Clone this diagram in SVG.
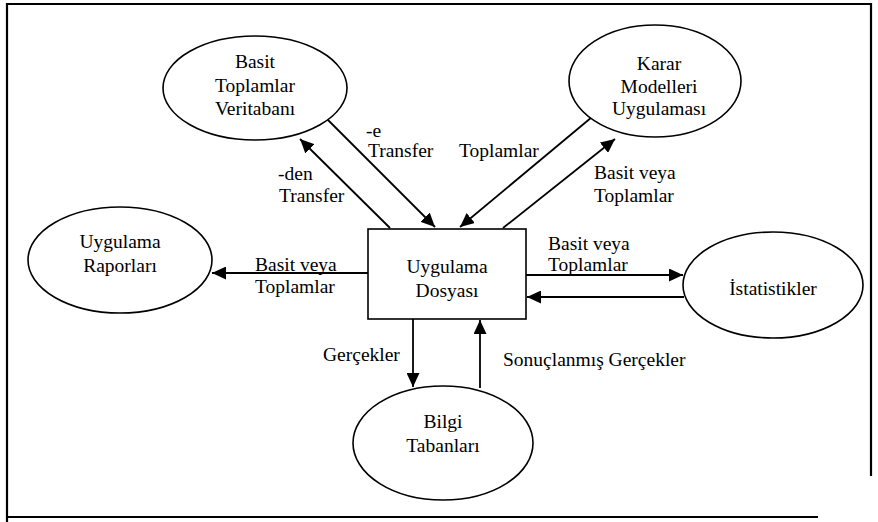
<svg xmlns="http://www.w3.org/2000/svg" width="878" height="522" viewBox="0 0 878 522">
<defs>
<style>
text{font-family:"Liberation Serif","Times New Roman",serif;font-size:19.5px;fill:#000}
.c{text-anchor:middle}
.n{fill:#fff;stroke:#000;stroke-width:1.6}
.a{stroke:#000;stroke-width:1.8;fill:none;marker-end:url(#ah)}
.f{stroke:#000;stroke-width:2.2;fill:none}
</style>
<marker id="ah" markerUnits="userSpaceOnUse" markerWidth="15" markerHeight="13" refX="14" refY="6.5" orient="auto" viewBox="0 0 15 13">
<path d="M0,0 L14,6.5 L0,13 z" fill="#000"/>
</marker>
</defs>
<rect width="878" height="522" fill="#fff"/>
<g id="frame">
<path class="f" d="M7,522 V4 H871 V476"/>
<path class="f" d="M7,517 H818"/>
</g>
<g id="connectors">
<line class="a" x1="325" y1="117" x2="435" y2="227"/>
<line class="a" x1="390" y1="228" x2="300" y2="139"/>
<line class="a" x1="592" y1="117" x2="460" y2="227"/>
<line class="a" x1="503" y1="228" x2="615" y2="139"/>
<line class="a" x1="368" y1="273" x2="212" y2="273"/>
<line class="a" x1="526" y1="275" x2="683" y2="275"/>
<line class="a" x1="684" y1="297" x2="527" y2="297"/>
<line class="a" x1="413" y1="319" x2="413" y2="387"/>
<line class="a" x1="480" y1="388" x2="480" y2="320"/>
<text x="366" y="137">-e</text>
<text x="368" y="157">Transfer</text>
<text x="278" y="180">-den</text>
<text x="279" y="202">Transfer</text>
<text x="459" y="157">Toplamlar</text>
<text x="594" y="179">Basit veya</text>
<text x="594" y="202">Toplamlar</text>
<text x="255" y="271">Basit veya</text>
<text x="255" y="293">Toplamlar</text>
<text x="548" y="250">Basit veya</text>
<text x="548" y="271">Toplamlar</text>
<text x="323" y="361">Gerçekler</text>
<text x="503" y="366">Sonuçlanmış Gerçekler</text>
</g>
<g id="basit-toplamlar-veritabani">
<ellipse class="n" cx="255" cy="88" rx="92" ry="52"/>
<text class="c" x="255" y="68">Basit</text>
<text class="c" x="255" y="92">Toplamlar</text>
<text class="c" x="255" y="115">Veritabanı</text>
</g>
<g id="karar-modelleri-uygulamasi">
<ellipse class="n" cx="655" cy="81" rx="86" ry="56"/>
<text class="c" x="659" y="70">Karar</text>
<text class="c" x="659" y="93">Modelleri</text>
<text class="c" x="659" y="115">Uygulaması</text>
</g>
<g id="uygulama-raporlari">
<ellipse class="n" cx="120" cy="260" rx="92" ry="53"/>
<text class="c" x="120" y="248">Uygulama</text>
<text class="c" x="120" y="272">Raporları</text>
</g>
<g id="uygulama-dosyasi">
<rect class="n" x="368" y="229" width="158" height="90"/>
<text class="c" x="447" y="273">Uygulama</text>
<text class="c" x="447" y="297">Dosyası</text>
</g>
<g id="istatistikler">
<ellipse class="n" cx="773" cy="285" rx="90" ry="53"/>
<text class="c" x="773" y="295">İstatistikler</text>
</g>
<g id="bilgi-tabanlari">
<ellipse class="n" cx="443" cy="443" rx="90" ry="57"/>
<text class="c" x="443" y="428">Bilgi</text>
<text class="c" x="443" y="452">Tabanları</text>
</g>
</svg>
